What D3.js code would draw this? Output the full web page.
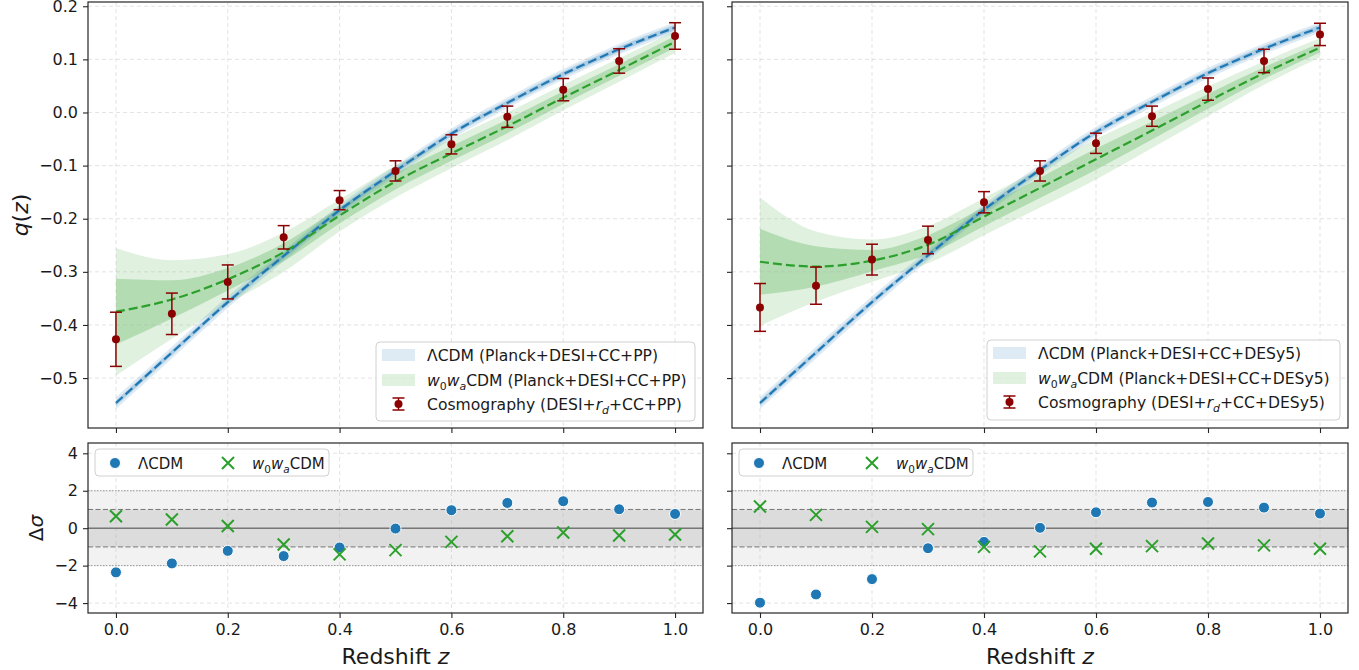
<!DOCTYPE html>
<html>
<head>
<meta charset="utf-8">
<script src="https://cdn.jsdelivr.net/npm/d3@7"></script>
<style>
  body { margin: 0; background: #fff; }
  svg { font-family: "DejaVu Sans", sans-serif; }
</style>
</head>
<body>
<svg id="chart" width="1359" height="670"></svg>
<script>
// redshift grid shared by every series
var zs = [0.0, 0.1, 0.2, 0.3, 0.4, 0.5, 0.6, 0.7, 0.8, 0.9, 1.0];
var xTicks = [0.0, 0.2, 0.4, 0.6, 0.8, 1.0];
var qTicks = [0.2, 0.1, 0.0, -0.1, -0.2, -0.3, -0.4, -0.5];
var dTicks = [4, 2, 0, -2, -4];

// left panel: PP
var lcdmPP = [-0.547, -0.452, -0.357, -0.270, -0.184, -0.110, -0.040, 0.018, 0.072, 0.119, 0.160];
var lcdmPPs1 = [0.005, 0.005, 0.005, 0.005, 0.005, 0.005, 0.005, 0.005, 0.005, 0.005, 0.005];
var lcdmPPs2 = [0.011, 0.011, 0.011, 0.010, 0.010, 0.010, 0.010, 0.010, 0.010, 0.010, 0.010];
var wwPP = [-0.375, -0.352, -0.314, -0.263, -0.194, -0.130, -0.077, -0.026, 0.028, 0.080, 0.133];
var wwPPs1 = [0.062, 0.036, 0.021, 0.017, 0.015, 0.015, 0.014, 0.013, 0.012, 0.011, 0.011];
var wwPPs2 = [0.120, 0.074, 0.047, 0.037, 0.030, 0.030, 0.028, 0.026, 0.024, 0.022, 0.021];
var cosPP = [-0.427, -0.379, -0.319, -0.235, -0.165, -0.110, -0.060, -0.008, 0.043, 0.097, 0.144];
var cosPPerr = [0.051, 0.039, 0.032, 0.022, 0.018, 0.019, 0.018, 0.020, 0.021, 0.023, 0.025];
var dLcdmPP = [-2.36, -1.88, -1.21, -1.49, -1.03, -0.02, 0.96, 1.35, 1.44, 1.01, 0.76];
var dWwPP = [0.64, 0.46, 0.12, -0.87, -1.40, -1.17, -0.73, -0.43, -0.23, -0.39, -0.34];

// right panel: DESy5
var lcdmDY = [-0.547, -0.452, -0.357, -0.269, -0.183, -0.108, -0.037, 0.020, 0.074, 0.120, 0.160];
var lcdmDYs1 = [0.005, 0.005, 0.005, 0.005, 0.005, 0.005, 0.005, 0.005, 0.005, 0.005, 0.005];
var lcdmDYs2 = [0.011, 0.011, 0.011, 0.010, 0.010, 0.010, 0.010, 0.010, 0.010, 0.010, 0.010];
var wwDY = [-0.281, -0.290, -0.279, -0.249, -0.196, -0.142, -0.088, -0.034, 0.021, 0.074, 0.122];
var wwDYs1 = [0.062, 0.038, 0.020, 0.018, 0.018, 0.019, 0.020, 0.017, 0.014, 0.011, 0.009];
var wwDYs2 = [0.121, 0.066, 0.040, 0.035, 0.035, 0.037, 0.038, 0.033, 0.028, 0.022, 0.018];
var cosDY = [-0.367, -0.326, -0.277, -0.240, -0.169, -0.110, -0.058, -0.007, 0.044, 0.097, 0.147];
var cosDYerr = [0.045, 0.035, 0.029, 0.026, 0.020, 0.019, 0.019, 0.019, 0.021, 0.022, 0.021];
var dLcdmDY = [-3.98, -3.54, -2.72, -1.07, -0.73, 0.02, 0.85, 1.37, 1.40, 1.10, 0.78];
var dWwDY = [1.16, 0.71, 0.07, -0.05, -1.00, -1.24, -1.10, -0.96, -0.82, -0.92, -1.10];

var blue = "#1f77b4", green = "#2ca02c", red = "#8b0000";

var svg = d3.select("#chart");

var topP = {y0: 2, y1: 428};
var botP = {y0: 443, y1: 613};
var panels = [
  {x0: 88, x1: 703, labels: true, tag: "PP",
   lcdm: lcdmPP, ls1: lcdmPPs1, ls2: lcdmPPs2, ww: wwPP, ws1: wwPPs1, ws2: wwPPs2,
   cos: cosPP, err: cosPPerr, dl: dLcdmPP, dw: dWwPP,
   leg: {x: 376, y: 342, w: 319, h: 79}},
  {x0: 732, x1: 1348, labels: false, tag: "DESy5",
   lcdm: lcdmDY, ls1: lcdmDYs1, ls2: lcdmDYs2, ww: wwDY, ws1: wwDYs1, ws2: wwDYs2,
   cos: cosDY, err: cosDYerr, dl: dLcdmDY, dw: dWwDY,
   leg: {x: 987, y: 340, w: 353, h: 80}}
];

var yq = d3.scaleLinear().domain([-0.594, 0.208]).range([topP.y1, topP.y0]);
var yd = d3.scaleLinear().domain([-4.53, 4.55]).range([botP.y1, botP.y0]);

function addMath(t, parts) {
  // parts: [text, italic, sub, dy]
  parts.forEach(function(p) {
    var ts = t.append("tspan").text(p[0]);
    if (p[1]) ts.attr("font-style", "italic");
    if (p[2]) ts.attr("font-size", "70%").attr("dy", 4);
    if (p.length > 3) ts.attr("dy", p[3]);
  });
}

panels.forEach(function(p, pi) {
  var x = d3.scaleLinear().domain([-0.05, 1.05]).range([p.x0, p.x1]);
  var clipId = "clipTop" + pi;
  svg.append("clipPath").attr("id", clipId).append("rect")
    .attr("x", p.x0).attr("y", topP.y0).attr("width", p.x1 - p.x0).attr("height", topP.y1 - topP.y0);

  // ---------- top panel ----------
  var g = svg.append("g");
  var inner = g.append("g").attr("clip-path", "url(#" + clipId + ")");

  var area = function(mid, s) {
    return d3.area().curve(d3.curveMonotoneX)
      .x(function(d, i) { return x(zs[i]); })
      .y0(function(d, i) { return yq(mid[i] - s[i]); })
      .y1(function(d, i) { return yq(mid[i] + s[i]); });
  };
  var line = d3.line().curve(d3.curveMonotoneX)
    .x(function(d, i) { return x(zs[i]); })
    .y(function(d) { return yq(d); });

  inner.append("path").datum(p.ww).attr("d", area(p.ww, p.ws2)).attr("fill", green).attr("opacity", 0.15);
  inner.append("path").datum(p.ww).attr("d", area(p.ww, p.ws1)).attr("fill", green).attr("opacity", 0.25);
  inner.append("path").datum(p.lcdm).attr("d", area(p.lcdm, p.ls2)).attr("fill", blue).attr("opacity", 0.15);
  inner.append("path").datum(p.lcdm).attr("d", area(p.lcdm, p.ls1)).attr("fill", blue).attr("opacity", 0.25);

  // grid
  inner.selectAll(".gx").data(xTicks).enter().append("line")
    .attr("x1", function(d) { return x(d); }).attr("x2", function(d) { return x(d); })
    .attr("y1", topP.y0).attr("y2", topP.y1)
    .attr("stroke", "#b0b0b0").attr("stroke-opacity", 0.35).attr("stroke-dasharray", "4,3");
  inner.selectAll(".gy").data(qTicks).enter().append("line")
    .attr("x1", p.x0).attr("x2", p.x1)
    .attr("y1", function(d) { return yq(d); }).attr("y2", function(d) { return yq(d); })
    .attr("stroke", "#b0b0b0").attr("stroke-opacity", 0.35).attr("stroke-dasharray", "4,3");

  inner.append("path").datum(p.lcdm).attr("d", line).attr("fill", "none")
    .attr("stroke", blue).attr("stroke-width", 2.2).attr("stroke-dasharray", "9,4");
  inner.append("path").datum(p.ww).attr("d", line).attr("fill", "none")
    .attr("stroke", green).attr("stroke-width", 2.2).attr("stroke-dasharray", "9,4");

  // cosmography error bars
  var eb = inner.selectAll(".eb").data(zs).enter().append("g");
  eb.append("line")
    .attr("x1", function(d) { return x(d); }).attr("x2", function(d) { return x(d); })
    .attr("y1", function(d, i) { return yq(p.cos[i] - p.err[i]); })
    .attr("y2", function(d, i) { return yq(p.cos[i] + p.err[i]); })
    .attr("stroke", red).attr("stroke-width", 1.5);
  [-1, 1].forEach(function(sg) {
    eb.append("line")
      .attr("x1", function(d) { return x(d) - 6; }).attr("x2", function(d) { return x(d) + 6; })
      .attr("y1", function(d, i) { return yq(p.cos[i] + sg * p.err[i]); })
      .attr("y2", function(d, i) { return yq(p.cos[i] + sg * p.err[i]); })
      .attr("stroke", red).attr("stroke-width", 1.5);
  });
  eb.append("circle")
    .attr("cx", function(d) { return x(d); })
    .attr("cy", function(d, i) { return yq(p.cos[i]); })
    .attr("r", 4).attr("fill", red);

  // axes
  var ax = d3.axisBottom(x).tickValues(xTicks).tickSize(5).tickFormat("");
  g.append("g").attr("transform", "translate(0," + topP.y1 + ")").call(ax);
  var ay = d3.axisLeft(yq).tickValues(qTicks).tickSize(5).tickPadding(5)
    .tickFormat(p.labels ? function(d) { return d3.format(".1f")(d).replace("-", "\u2212"); } : "");
  g.append("g").attr("transform", "translate(" + p.x0 + ",0)").call(ay);

  g.append("rect").attr("x", p.x0).attr("y", topP.y0).attr("width", p.x1 - p.x0).attr("height", topP.y1 - topP.y0)
    .attr("fill", "none").attr("stroke", "#262626").attr("stroke-width", 1.2);

  // legend
  var L = p.leg;
  var lg = g.append("g").attr("transform", "translate(" + L.x + "," + L.y + ")");
  lg.append("rect").attr("width", L.w).attr("height", L.h).attr("rx", 4)
    .attr("fill", "#fff").attr("fill-opacity", 0.8).attr("stroke", "#d0d0d0");
  var rows = [13, 38, 62];
  lg.append("rect").attr("x", 6).attr("y", rows[0] - 6).attr("width", 33).attr("height", 12)
    .attr("fill", blue).attr("opacity", 0.15);
  lg.append("rect").attr("x", 6).attr("y", rows[1] - 6).attr("width", 33).attr("height", 12)
    .attr("fill", green).attr("opacity", 0.15);
  lg.append("line").attr("x1", 22.5).attr("x2", 22.5).attr("y1", rows[2] - 6).attr("y2", rows[2] + 6)
    .attr("stroke", red).attr("stroke-width", 1.5);
  lg.append("line").attr("x1", 16.5).attr("x2", 28.5).attr("y1", rows[2] - 6).attr("y2", rows[2] - 6)
    .attr("stroke", red).attr("stroke-width", 1.5);
  lg.append("line").attr("x1", 16.5).attr("x2", 28.5).attr("y1", rows[2] + 6).attr("y2", rows[2] + 6)
    .attr("stroke", red).attr("stroke-width", 1.5);
  lg.append("circle").attr("cx", 22.5).attr("cy", rows[2]).attr("r", 4).attr("fill", red);

  var tx = 51, fs = 15.6;
  var t1 = lg.append("text").attr("x", tx).attr("y", rows[0] + 5.5).attr("font-size", fs).attr("fill", "#1a1a1a");
  t1.text("\u039BCDM (Planck+DESI+CC+" + p.tag + ")");
  var t2 = lg.append("text").attr("x", tx).attr("y", rows[1] + 5.5).attr("font-size", fs).attr("fill", "#1a1a1a");
  addMath(t2, [["w", true, false], ["0", false, true], ["w", true, false, -4], ["a", true, true], ["CDM (Planck+DESI+CC+" + p.tag + ")", false, false, -4]]);
  var t3 = lg.append("text").attr("x", tx).attr("y", rows[2] + 5.5).attr("font-size", fs).attr("fill", "#1a1a1a");
  addMath(t3, [["Cosmography (DESI+", false, false], ["r", true, false], ["d", true, true], ["+CC+" + p.tag + ")", false, false, -4]]);

  // ---------- bottom panel ----------
  var b = svg.append("g");
  b.append("rect").attr("x", p.x0).attr("width", p.x1 - p.x0)
    .attr("y", yd(2)).attr("height", yd(-2) - yd(2)).attr("fill", "#f2f2f2");
  b.append("rect").attr("x", p.x0).attr("width", p.x1 - p.x0)
    .attr("y", yd(1)).attr("height", yd(-1) - yd(1)).attr("fill", "#dcdcdc");

  b.selectAll(".gx").data(xTicks).enter().append("line")
    .attr("x1", function(d) { return x(d); }).attr("x2", function(d) { return x(d); })
    .attr("y1", botP.y0).attr("y2", botP.y1)
    .attr("stroke", "#b0b0b0").attr("stroke-opacity", 0.35).attr("stroke-dasharray", "4,3");
  b.selectAll(".gy").data(dTicks).enter().append("line")
    .attr("x1", p.x0).attr("x2", p.x1)
    .attr("y1", function(d) { return yd(d); }).attr("y2", function(d) { return yd(d); })
    .attr("stroke", "#b0b0b0").attr("stroke-opacity", 0.35).attr("stroke-dasharray", "4,3");

  [2, -2].forEach(function(v) {
    b.append("line").attr("x1", p.x0).attr("x2", p.x1).attr("y1", yd(v)).attr("y2", yd(v))
      .attr("stroke", "#999").attr("stroke-width", 1).attr("stroke-dasharray", "1.5,1.5");
  });
  [1, -1].forEach(function(v) {
    b.append("line").attr("x1", p.x0).attr("x2", p.x1).attr("y1", yd(v)).attr("y2", yd(v))
      .attr("stroke", "#777").attr("stroke-width", 1).attr("stroke-dasharray", "5,2.5");
  });
  b.append("line").attr("x1", p.x0).attr("x2", p.x1).attr("y1", yd(0)).attr("y2", yd(0))
    .attr("stroke", "#777").attr("stroke-width", 1.5);

  b.selectAll(".dl").data(p.dl).enter().append("circle")
    .attr("cx", function(d, i) { return x(zs[i]); })
    .attr("cy", function(d) { return yd(d); })
    .attr("r", 5.5).attr("fill", blue).attr("stroke", "#fff").attr("stroke-width", 1);
  var xs = 6;
  b.selectAll(".dw").data(p.dw).enter().append("path")
    .attr("d", function(d, i) {
      var cx = x(zs[i]), cy = yd(d);
      return "M" + (cx - xs) + "," + (cy - xs) + "L" + (cx + xs) + "," + (cy + xs) +
        "M" + (cx - xs) + "," + (cy + xs) + "L" + (cx + xs) + "," + (cy - xs);
    })
    .attr("stroke", green).attr("stroke-width", 2).attr("fill", "none");

  var bx = d3.axisBottom(x).tickValues(xTicks).tickSize(5).tickPadding(6)
    .tickFormat(d3.format(".1f"));
  b.append("g").attr("transform", "translate(0," + botP.y1 + ")").call(bx);
  var by = d3.axisLeft(yd).tickValues(dTicks).tickSize(5).tickPadding(5)
    .tickFormat(p.labels ? function(d) { return d3.format("d")(d).replace("-", "\u2212"); } : "");
  b.append("g").attr("transform", "translate(" + p.x0 + ",0)").call(by);

  b.append("rect").attr("x", p.x0).attr("y", botP.y0).attr("width", p.x1 - p.x0).attr("height", botP.y1 - botP.y0)
    .attr("fill", "none").attr("stroke", "#262626").attr("stroke-width", 1.2);

  // bottom legend
  var bl = b.append("g").attr("transform", "translate(" + (p.x0 + 7) + "," + (botP.y0 + 6) + ")");
  bl.append("rect").attr("width", 234).attr("height", 27).attr("rx", 4)
    .attr("fill", "#fff").attr("fill-opacity", 0.8).attr("stroke", "#d0d0d0");
  bl.append("circle").attr("cx", 20).attr("cy", 14).attr("r", 5.5).attr("fill", blue)
    .attr("stroke", "#fff").attr("stroke-width", 1);
  bl.append("text").attr("x", 43).attr("y", 19.5).attr("font-size", 15).attr("fill", "#1a1a1a").text("\u039BCDM");
  bl.append("path")
    .attr("d", "M" + (133 - xs) + "," + (14 - xs) + "L" + (133 + xs) + "," + (14 + xs) +
      "M" + (133 - xs) + "," + (14 + xs) + "L" + (133 + xs) + "," + (14 - xs))
    .attr("stroke", green).attr("stroke-width", 2);
  var bt = bl.append("text").attr("x", 157).attr("y", 19.5).attr("font-size", 15).attr("fill", "#1a1a1a");
  addMath(bt, [["w", true, false], ["0", false, true], ["w", true, false, -4], ["a", true, true], ["CDM", false, false, -4]]);

  // x label
  var xl = svg.append("text").attr("x", (p.x0 + p.x1) / 2).attr("y", 664)
    .attr("text-anchor", "middle").attr("font-size", 22).attr("fill", "#1a1a1a");
  addMath(xl, [["Redshift ", false, false], ["z", true, false]]);
});

// style axes
svg.selectAll(".domain").remove();
svg.selectAll(".tick line").attr("stroke", "#262626").attr("stroke-width", 1.1);
svg.selectAll(".tick text").attr("font-size", 16).attr("fill", "#1a1a1a")
  .attr("font-family", "DejaVu Sans, sans-serif");

// y labels
var yl1 = svg.append("text").attr("transform", "translate(28," + ((topP.y0 + topP.y1) / 2) + ") rotate(-90)")
  .attr("text-anchor", "middle").attr("font-size", 22).attr("fill", "#1a1a1a");
addMath(yl1, [["q", true, false], ["(", false, false], ["z", true, false], [")", false, false]]);
var yl2 = svg.append("text").attr("transform", "translate(43," + ((botP.y0 + botP.y1) / 2) + ") rotate(-90)")
  .attr("text-anchor", "middle").attr("font-size", 20).attr("fill", "#1a1a1a");
addMath(yl2, [["\u0394", false, false], ["\u03C3", true, false]]);
</script>
</body>
</html>
